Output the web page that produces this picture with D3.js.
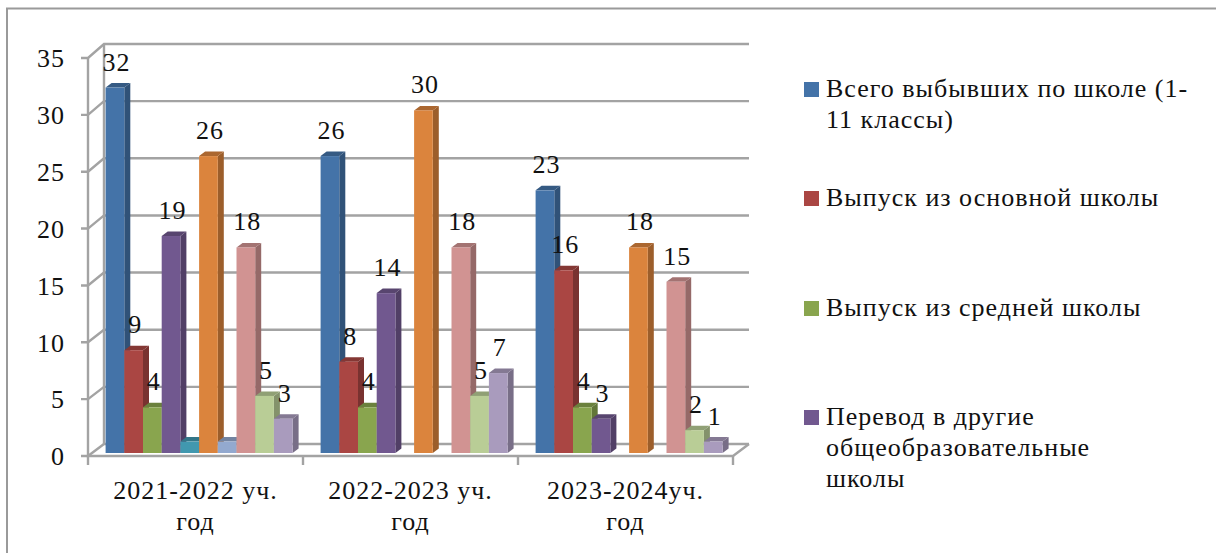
<!DOCTYPE html>
<html><head><meta charset="utf-8">
<script src="https://cdn.jsdelivr.net/npm/d3@7/dist/d3.min.js"></script>
<style>html,body{margin:0;padding:0;background:#fff}svg{display:block}
text{font-family:"Liberation Serif";fill:#111}</style></head>
<body><svg id="c" width="1216" height="553"></svg>
<script>
const categories = ["2021-2022 уч.|год","2022-2023 уч.|год","2023-2024уч.|год"];
const legendNames = ["Всего выбывших по школе (1-|11 классы)","Выпуск из основной школы","Выпуск из средней школы","Перевод в другие|общеобразовательные|школы"];
const colors = ["#4473a8","#aa4643","#89a54e","#71588f","#4198af","#db843d","#93a9cf","#d19392","#b9cd96","#a99bbd"];
const s0 = [32,26,23];
const s1 = [9,8,16];
const s2 = [4,4,4];
const s3 = [19,14,3];
const s4 = [1,0,0];
const s5 = [26,30,18];
const s6 = [1,0,0];
const s7 = [18,18,15];
const s8 = [5,5,2];
const s9 = [3,7,1];
const series = [s0,s1,s2,s3,s4,s5,s6,s7,s8,s9];
const unlabelled = [4,6];
const yTicks = [0,5,10,15,20,25,30,35];

const svg = d3.select("#c");
const grey = "#a3a3a3", fs = 26, ls = "1px";
svg.append("path").attr("d","M7,553V8.5H1216").attr("fill","none").attr("stroke","#9a9a9a").attr("stroke-width",2);

const yFront = d3.scaleLinear().domain([0,35]).range([456,58]);
const yBack = d3.scaleLinear().domain([0,35]).range([444,44]);
const yBar = d3.scaleLinear().domain([0,35]).range([453,53.3]);
const xCat = d3.scaleBand().domain(d3.range(3)).range([88,733]);
const xSer = d3.scaleBand().domain(d3.range(10)).range([17.6,204.6]);
const bw = xSer.bandwidth(), dx = 6, dy = 4.5;

const grid = svg.append("g").attr("fill","none").attr("stroke",grey).attr("stroke-width",2.4);
yTicks.forEach(t=>{
  grid.append("path").attr("d",`M81,${yFront(t)}H88L104,${yBack(t)}H749`);
});
grid.append("path").attr("d",`M88,${yFront(35)}V${yFront(0)}H733L749,${yBack(0)}`);
grid.append("path").attr("d",`M104,${yBack(35)}V${yBack(0)}`);
d3.range(4).forEach(i=>{
  const x = i<3 ? xCat(i) : xCat.range()[1];
  grid.append("path").attr("d",`M${x},456V465`);
});

const yAxis = svg.append("g").attr("transform","translate(81,0)").call(d3.axisLeft(yFront).tickValues(yTicks).tickSize(0).tickPadding(16));
yAxis.select(".domain").remove();
yAxis.selectAll("text").attr("font-size",fs).attr("font-family","Liberation Serif").attr("letter-spacing",ls).attr("fill","#111").attr("dy","0.34em");

categories.forEach((c,ci)=>{
  const lines = c.split("|");
  lines.forEach((l,li)=>svg.append("text").attr("x",xCat(ci)+xCat.bandwidth()/2).attr("y",499+li*31)
    .attr("text-anchor","middle").attr("font-size",fs).attr("letter-spacing",ls).text(l));
  const g = svg.append("g");
  series.forEach((s,si)=>{
    const v = s[ci]; if(!v) return;
    const x = xCat(ci)+xSer(si), y = yBar(v), b = yBar(0), col = d3.color(colors[si]);
    g.append("polygon").attr("points",[[x+bw,y],[x+bw+dx,y-dy],[x+bw+dx,b-dy],[x+bw,b]].join(" ")).attr("fill",col.darker(0.95));
    g.append("polygon").attr("points",[[x,y],[x+dx,y-dy],[x+bw+dx,y-dy],[x+bw,y]].join(" ")).attr("fill",col.darker(0.7));
    g.append("rect").attr("x",x).attr("y",y).attr("width",bw).attr("height",b-y).attr("fill",col);
  });
});
categories.forEach((c,ci)=>series.forEach((s,si)=>{
  const v = s[ci]; if(!v || unlabelled.includes(si)) return;
  svg.append("text").attr("x",xCat(ci)+xSer(si)+bw/2+1.5).attr("y",yBar(v)-17)
    .attr("text-anchor","middle").attr("font-size",fs).attr("letter-spacing",ls).text(v);
}));

const legendBase = [97,206,316,425];
legendNames.forEach((n,i)=>{
  svg.append("rect").attr("x",804).attr("y",legendBase[i]-15).attr("width",15).attr("height",15).attr("fill",colors[i]);
  n.split("|").forEach((l,li)=>svg.append("text").attr("x",826).attr("y",legendBase[i]+li*31).attr("font-size",fs).attr("letter-spacing",ls).text(l));
});
</script></body></html>
